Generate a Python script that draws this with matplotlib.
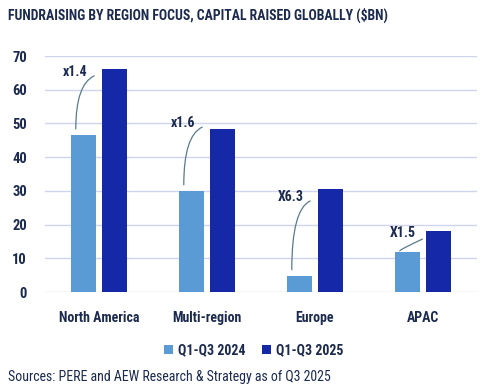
import matplotlib
matplotlib.use('Agg')
import matplotlib.pyplot as plt
import numpy as np

plt.rcParams['font.family'] = ['Roboto Condensed', 'DejaVu Sans']
plt.rcParams['font.stretch'] = 'condensed'

regions = ["North America", "Multi-region", "Europe", "APAC"]
raised_2024 = [46.6, 30.0, 4.8, 11.9]
raised_2025 = [66.2, 48.4, 30.6, 18.1]
multiples = ["x1.4", "x1.6", "X6.3", "X1.5"]
series = ["Q1-Q3 2024", "Q1-Q3 2025"]
# where the multiple labels sit (value units)
label_y = [65.3, 50.1, 28.2, 17.5]

navy = "#1b2a4e"
light = "#5b9bd5"
dark = "#1428a8"

fig = plt.figure(figsize=(4.93, 3.92), dpi=100)
ax = fig.add_axes([45/493, 1-292/392, 432/493, 236/392])

x = np.arange(len(regions))
w = 0.235
off = 0.145
ax.bar(x - off, raised_2024, w, color=light, label=series[0], zorder=3)
ax.bar(x + off, raised_2025, w, color=dark, label=series[1], zorder=3)

ax.set_xlim(-0.5, 3.5)
ax.set_ylim(0, 70)
ax.set_yticks(range(0, 71, 10))
ax.grid(axis='y', color='#d0d4ec', lw=1, zorder=0)
for s in ax.spines.values():
    s.set_visible(False)
ax.tick_params(length=0, labelsize=10, labelcolor=navy)
ax.tick_params(axis='y', pad=13, labelsize=10.5)
ax.tick_params(axis='x', pad=14)
ax.set_xticks(x)
ax.set_xticklabels(regions, fontweight='bold')
for t in ax.get_yticklabels():
    t.set_fontweight('bold')

# multiple labels with curved connectors
for i in range(len(regions)):
    bx = x[i] - off
    start = (bx - 0.07, raised_2024[i] + (1.8 if i < 3 else 0.3))
    end = (bx + 0.10 + (0.04 if i == 3 else 0), label_y[i] - 1.2 - (0.6 if i == 3 else 0))
    ax.annotate("", xy=end, xytext=start,
                arrowprops=dict(arrowstyle='-', color='#5a7a8c', lw=0.9,
                                connectionstyle="angle3,angleA=90,angleB=25",
                                shrinkA=0, shrinkB=0))
    ax.text(end[0] - 0.06, label_y[i], multiples[i], ha='right', va='center',
            fontsize=10, fontweight='bold', color=navy)

fig.text(8/493, 1-15/392, "FUNDRAISING BY REGION FOCUS, CAPITAL RAISED GLOBALLY ($BN)",
         fontsize=9.9, fontweight='bold', color=navy, va='center')
fig.legend(loc='center', bbox_to_anchor=(254/493, 1-350/392), ncol=2, frameon=False,
           handlelength=0.6, handleheight=0.6, handletextpad=0.4,
           columnspacing=1.2, labelcolor=navy, prop={'weight': 'bold', 'size': 10})
fig.text(8/493, 1-377/392, "Sources: PERE and AEW Research & Strategy as of Q3 2025",
         fontsize=10, color=navy, va='center')

fig.savefig("out.png", dpi=100)
